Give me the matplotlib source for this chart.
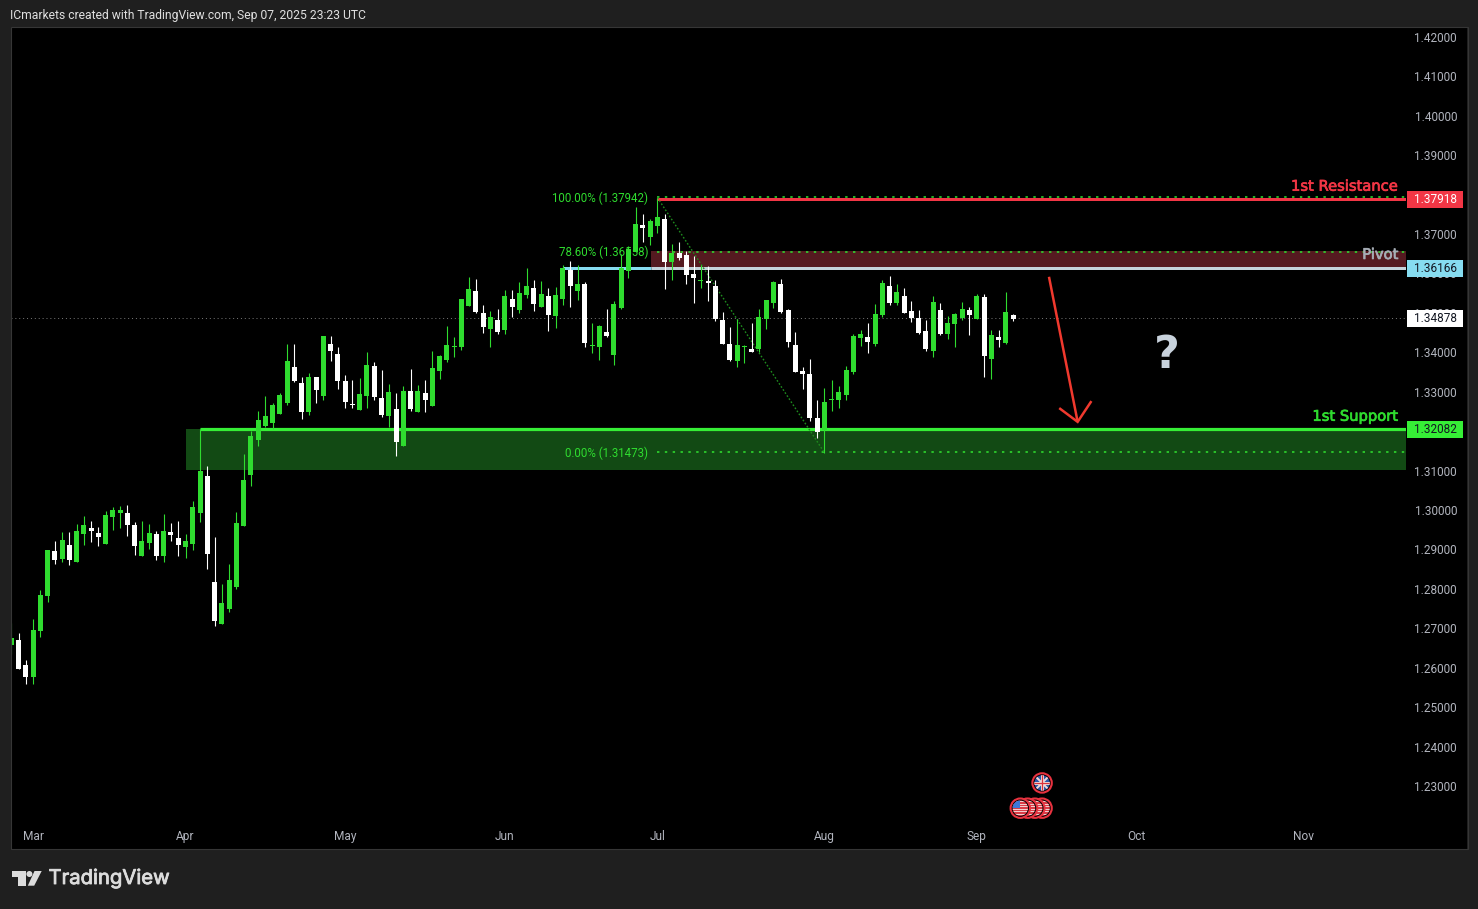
import numpy as np
import matplotlib
matplotlib.use("Agg")
import matplotlib.pyplot as plt
import matplotlib.patheffects as pe
from matplotlib.patches import Circle, Polygon, Rectangle
from matplotlib.transforms import blended_transform_factory

opens = [1.2659,1.2671,1.2608,1.2577,1.2694,1.2783,1.2897,1.2877,1.2912,1.2869,
 1.2940,1.2955,1.2942,1.2915,1.2983,1.2993,1.2993,1.2963,1.2884,1.2917,
 1.2940,1.2884,1.2945,1.2930,1.2907,1.2915,1.2993,1.3087,1.2818,1.2711,
 1.2750,1.2805,1.2960,1.3090,1.3179,1.3214,1.3222,1.3244,1.3272,1.3364,
 1.3323,1.3250,1.3338,1.3290,1.3422,1.3397,1.3328,1.3270,1.3255,1.3290,
 1.3366,1.3285,1.3239,1.3257,1.3163,1.3303,1.3250,1.3298,1.3265,1.3354,
 1.3381,1.3414,1.3414,1.3519,1.3557,1.3501,1.3460,1.3483,1.3457,1.3536,
 1.3508,1.3546,1.3564,1.3516,1.3544,1.3494,1.3536,1.3610,1.3557,1.3575,
 1.3417,1.3414,1.3452,1.3394,1.3514,1.3608,1.3656,1.3724,1.3694,1.3722,
 1.3739,1.3630,1.3653,1.3648,1.3600,1.3582,1.3582,1.3569,1.3483,1.3422,
 1.3379,1.3414,1.3409,1.3409,1.3486,1.3526,1.3574,1.3508,1.3420,1.3354,
 1.3346,1.3234,1.3204,1.3280,1.3280,1.3293,1.3351,1.3437,1.3440,1.3422,
 1.3496,1.3569,1.3526,1.3544,1.3506,1.3488,1.3455,1.3404,1.3508,1.3447,
 1.3473,1.3488,1.3508,1.3486,1.3541,1.3384,1.3440,1.3425,1.3496]
closes = [1.2677,1.2598,1.2577,1.2697,1.2785,1.2899,1.2874,1.2925,1.2874,1.2948,
 1.2963,1.2948,1.2932,1.2988,1.3001,1.3001,1.2963,1.2909,1.2922,1.2942,
 1.2884,1.2948,1.2937,1.2912,1.2922,1.3008,1.3100,1.2889,1.2719,1.2765,
 1.2823,1.2968,1.3077,1.3189,1.3229,1.3239,1.3267,1.3293,1.3379,1.3328,
 1.3250,1.3338,1.3305,1.3442,1.3404,1.3328,1.3275,1.3267,1.3295,1.3369,
 1.3288,1.3242,1.3300,1.3173,1.3303,1.3257,1.3303,1.3280,1.3361,1.3392,
 1.3420,1.3417,1.3536,1.3562,1.3504,1.3465,1.3491,1.3452,1.3544,1.3516,
 1.3551,1.3569,1.3523,1.3549,1.3495,1.3546,1.3615,1.3569,1.3575,1.3425,
 1.3420,1.3468,1.3443,1.3524,1.3615,1.3663,1.3727,1.3717,1.3734,1.3745,
 1.3630,1.3653,1.3640,1.3597,1.3590,1.3584,1.3577,1.3486,1.3422,1.3381,
 1.3420,1.3417,1.3402,1.3491,1.3534,1.3579,1.3503,1.3427,1.3351,1.3346,
 1.3234,1.3199,1.3275,1.3282,1.3300,1.3356,1.3442,1.3447,1.3427,1.3498,
 1.3577,1.3526,1.3554,1.3501,1.3488,1.3450,1.3409,1.3529,1.3447,1.3475,
 1.3498,1.3511,1.3496,1.3544,1.3392,1.3445,1.3432,1.3503,1.3486]
highs = [1.2715,1.2689,1.2620,1.2725,1.2798,1.2899,1.2922,1.2945,1.2945,1.2965,
 1.2986,1.2973,1.2958,1.2998,1.3008,1.3011,1.3014,1.2970,1.2973,1.2965,
 1.2948,1.2991,1.2968,1.2973,1.2940,1.3024,1.3206,1.3112,1.2932,1.2813,
 1.2864,1.2996,1.3143,1.3201,1.3252,1.3290,1.3272,1.3298,1.3422,1.3422,
 1.3338,1.3348,1.3338,1.3442,1.3442,1.3414,1.3343,1.3331,1.3336,1.3402,
 1.3376,1.3356,1.3321,1.3298,1.3315,1.3359,1.3318,1.3331,1.3404,1.3394,
 1.3468,1.3440,1.3536,1.3592,1.3587,1.3521,1.3506,1.3511,1.3559,1.3559,
 1.3579,1.3615,1.3584,1.3582,1.3564,1.3567,1.3623,1.3633,1.3623,1.3579,
 1.3476,1.3471,1.3511,1.3532,1.3651,1.3671,1.3770,1.3752,1.3739,1.3794,
 1.3752,1.3676,1.3681,1.3658,1.3645,1.3623,1.3620,1.3584,1.3503,1.3465,
 1.3486,1.3420,1.3475,1.3511,1.3534,1.3582,1.3587,1.3511,1.3453,1.3364,
 1.3384,1.3280,1.3310,1.3331,1.3315,1.3366,1.3447,1.3458,1.3475,1.3524,
 1.3584,1.3595,1.3574,1.3564,1.3531,1.3508,1.3483,1.3544,1.3526,1.3493,
 1.3501,1.3529,1.3516,1.3549,1.3549,1.3458,1.3458,1.3554,1.3498]
lows = [1.2636,1.2598,1.2560,1.2560,1.2679,1.2768,1.2864,1.2869,1.2861,1.2869,
 1.2912,1.2920,1.2909,1.2915,1.2950,1.2955,1.2935,1.2887,1.2884,1.2902,
 1.2874,1.2869,1.2922,1.2884,1.2879,1.2899,1.2970,1.2851,1.2706,1.2711,
 1.2742,1.2800,1.2960,1.3062,1.3163,1.3211,1.3206,1.3244,1.3267,1.3326,
 1.3232,1.3242,1.3272,1.3280,1.3379,1.3308,1.3260,1.3260,1.3255,1.3260,
 1.3280,1.3237,1.3211,1.3138,1.3163,1.3252,1.3250,1.3250,1.3265,1.3333,
 1.3376,1.3389,1.3407,1.3519,1.3501,1.3450,1.3414,1.3447,1.3447,1.3491,
 1.3501,1.3539,1.3506,1.3516,1.3455,1.3463,1.3521,1.3516,1.3534,1.3414,
 1.3400,1.3382,1.3440,1.3369,1.3511,1.3590,1.3656,1.3681,1.3673,1.3704,
 1.3562,1.3584,1.3635,1.3575,1.3526,1.3564,1.3532,1.3481,1.3422,1.3379,
 1.3364,1.3374,1.3402,1.3402,1.3460,1.3513,1.3501,1.3414,1.3351,1.3308,
 1.3227,1.3183,1.3147,1.3252,1.3260,1.3280,1.3346,1.3417,1.3399,1.3417,
 1.3491,1.3521,1.3521,1.3501,1.3478,1.3447,1.3404,1.3389,1.3445,1.3435,
 1.3414,1.3483,1.3445,1.3486,1.3338,1.3333,1.3414,1.3422,1.3480]

y_ticks = [1.42,1.41,1.40,1.39,1.38,1.37,1.36,1.35,1.34,1.33,1.32,1.31,1.30,1.29,
           1.28,1.27,1.26,1.25,1.24,1.23]
month_labels = ["Mar","Apr","May","Jun","Jul","Aug","Sep","Oct","Nov"]
month_bars = [3,24,46,68,89,112,133,155,178]

resistance, pivot, support, last_price = 1.37918, 1.36166, 1.32082, 1.34878
pivot_zone_top, support_zone_bottom = 1.3658, 1.3103
fib_levels = [1.37942, 1.36558, 1.31473]
fib_labels = ["100.00% (1.37942)", "78.60% (1.36558)", "0.00% (1.31473)"]
fib_high_bar, fib_low_bar = 89, 112
arrow_x = [142.95, 146.9]
arrow_y = [1.3593, 1.3225]
head_x = [144.5, 146.9, 148.7]
head_y = [1.3258, 1.3225, 1.3275]
us_event_bars = [142, 141, 140, 139]
uk_event_bar = 142

W, H = 1478, 909
BG, PANE = "#1f1f1f", "#000000"
GREEN, LINE_GREEN, RED = "#2fdc2f", "#36ee36", "#f23645"
SKY, AXIS_TXT = "#86dcf0", "#b2b5be"
FONT = "Roboto"

fig = plt.figure(figsize=(W/100, H/100), dpi=100, facecolor=BG)

def px_axes(x0, y0, x1, y1, **kw):
    return fig.add_axes([x0/W, 1-y1/H, (x1-x0)/W, (y1-y0)/H], **kw)

STEP, X0 = 7.259, 11.3
PPU = 3942.1
ymax = 1.42 + (37.5-27)/PPU
ymin = 1.23 - (849-786.5)/PPU
NUDGE = 0.9/PPU  # the level lines sit about one pixel lower than the tick scale suggests

ax = px_axes(11, 27, 1406, 849, facecolor=PANE)
ax.set_xlim((11-X0)/STEP, (1406-X0)/STEP)
ax.set_ylim(ymin, ymax)
for s in ax.spines.values():
    s.set_visible(False)
ax.set_yticks([])
ax.set_xticks(month_bars, month_labels, fontfamily=FONT, fontsize=8.6, color=AXIS_TXT)
ax.tick_params(axis="x", length=0, pad=-14)
xend = (1406-X0)/STEP + 1
PX = 0.72
ZONE_BAR = 88.1

ax.fill_between([24.05, xend], support_zone_bottom, support-NUDGE, color="#124a14", lw=0, zorder=1)
ax.fill_between([ZONE_BAR, xend], pivot-NUDGE, pivot_zone_top, color="#551a20", lw=0, zorder=1)
ax.plot([26, xend], [support-NUDGE]*2, color=LINE_GREEN, lw=3.2*PX, zorder=2, solid_capstyle="butt")
ax.plot([89, xend], [resistance-NUDGE]*2, color=RED, lw=3*PX, zorder=2, solid_capstyle="butt")
ax.plot([76, ZONE_BAR], [pivot-NUDGE]*2, color=SKY, lw=3*PX, zorder=2, solid_capstyle="butt")
ax.plot([ZONE_BAR, xend], [pivot-NUDGE]*2, color="#c4d2da", lw=3*PX, zorder=2, solid_capstyle="butt")
ax.axhline(last_price, color="#7a7a7a", lw=0.7, ls=(0, (1, 3)), zorder=1.5)
for lvl in fib_levels:
    ax.plot([fib_high_bar, xend], [lvl, lvl], color=GREEN, lw=1.6*PX, ls=(0, (1.5, 3.4)), zorder=2.5)
ax.plot([fib_high_bar, fib_low_bar], [fib_levels[0], fib_levels[2]], color="#1e8a1e",
        lw=1.4*PX, ls=(0, (1.2, 1.4)), zorder=2.5)
for lvl, lab in zip(fib_levels, fib_labels):
    ax.annotate(lab, (fib_high_bar, lvl), xytext=(-6.5, -0.4), textcoords="offset points",
                ha="right", va="center", color=GREEN, fontsize=8.3, fontfamily=FONT, zorder=2.6)

idx = np.arange(len(opens))
o, c, h, l = map(np.array, (opens, closes, highs, lows))
up = c >= o
cols = np.where(up, GREEN, "#ffffff")
ax.vlines(idx, l, h, colors=cols, lw=1.1*PX, zorder=3)
ax.bar(idx, np.maximum(np.abs(c-o), 0.0004), bottom=np.minimum(o, c), width=5/STEP,
       color=cols, lw=0, zorder=3.1)

tr = blended_transform_factory(ax.transAxes, ax.transData)
lab_x = (1398.5-11)/(1406-11)
def side_label(y, txt, col):
    t = ax.text(lab_x, y, txt, transform=tr, ha="right", va="center", color=col,
                fontsize=10.6, fontfamily="DejaVu Sans", zorder=5)
    t.set_path_effects([pe.withStroke(linewidth=0.5, foreground=col)])
side_label(resistance+0.0031, "1st Resistance", RED)
side_label(pivot+0.0033, "Pivot", "#a6adb6")
side_label(support+0.0031, "1st Support", GREEN)

ax.plot(arrow_x, arrow_y, color="#f0392e", lw=2.5*PX, zorder=6, solid_capstyle="butt")
ax.plot(head_x, head_y, color="#f0392e", lw=2.5*PX, zorder=6, solid_joinstyle="miter")
ax.text((1167-X0)/STEP, 1.3394, "?", ha="center", va="center", color="#c8d2dc",
        fontsize=32, fontweight="bold", fontfamily="DejaVu Sans", zorder=6)

ap = px_axes(1406, 27, 1467, 849, facecolor=PANE)
ap.set_xlim(1406, 1467)
ap.set_ylim(ymin, ymax)
ap.set_xticks([]); ap.set_yticks([])
for s in ap.spines.values():
    s.set_visible(False)
for t in y_ticks:
    ap.annotate(f"{t:.5f}", (1457, t), xytext=(0, -0.7), textcoords="offset points",
                ha="right", va="center", color=AXIS_TXT, fontsize=8.5, fontfamily=FONT, zorder=1)
tags = [(resistance, RED, "#ffffff", NUDGE), (pivot, SKY, "#131722", NUDGE),
        (last_price, "#ffffff", "#131722", 0.0), (support, LINE_GREEN, "#131722", NUDGE)]
for val, col, txt, nudge in tags:
    ap.barh(val-nudge, 56, left=1407, height=17/PPU, color=col, lw=0, zorder=3)
    ap.annotate(f"{val:.5f}", (1457, val-nudge), xytext=(0, -0.4), textcoords="offset points",
                ha="right", va="center", color=txt, fontsize=8.5, fontfamily=FONT, zorder=4)

ov = fig.add_axes([0, 0, 1, 1], facecolor="none")
ov.axis("off")
ov.add_patch(Rectangle((10.5, 26.5), 1457, 822, fill=False, ec="#363636", lw=0.8))
ov.text(10, 15, "ICmarkets created with TradingView.com, Sep 07, 2025 23:23 UTC", color="#e0e0e0",
        fontsize=8.75, fontfamily=FONT, ha="left", va="center")
tv = ov.text(48.5, 879, "TradingView", color="#dcdcdc", fontsize=14.6, fontfamily="Inter",
             ha="left", va="center")
tv.set_path_effects([pe.withStroke(linewidth=0.6, foreground="#dcdcdc")])
logo = "#dcdcdc"
ov.add_patch(Polygon([(12,871),(25.7,871),(25.7,885.7),(18.3,885.7),(18.3,877.3),(12,877.3)], fc=logo, lw=0))
ov.add_patch(Circle((29.4, 874), 3, fc=logo, lw=0))
ov.add_patch(Polygon([(34.5,871),(41.7,871),(34.2,885.7),(27.8,885.7)], fc=logo, lw=0))

def bar_px(i):
    return X0 + STEP*i
def price_px(p):
    return 37.5 + (1.42-p)*PPU

us_y = price_px(1.2245)
stripes = np.ones((13, 13, 3))
stripes[::2] = np.array([0.86, 0.24, 0.28])
stripes[1::2] = np.array([0.96, 0.80, 0.80])
for k, b in enumerate(us_event_bars):
    cx = bar_px(b)
    z = 3 + k
    ov.add_patch(Circle((cx, us_y), 9.7, fc="#000000", ec="#e8323f", lw=1.5, zorder=z))
    clip = Circle((cx, us_y), 7.7, transform=ov.transData)
    im = ov.imshow(stripes, extent=(cx-8, cx+8, us_y+8, us_y-8), zorder=z+0.1,
                   interpolation="nearest", aspect="auto")
    im.set_clip_path(clip)
    if b == us_event_bars[-1]:
        r = Rectangle((cx-8, us_y-8), 8, 7.5, fc="#3c78d8", lw=0, zorder=z+0.2)
        ov.add_patch(r)
        r.set_clip_path(clip)

uk_x, uk_y = bar_px(uk_event_bar), price_px(1.2309)
ov.add_patch(Circle((uk_x, uk_y), 9.7, fc="#000000", ec="#e8323f", lw=1.5, zorder=3))
clip = Circle((uk_x, uk_y), 7.7, transform=ov.transData)
bgp = Rectangle((uk_x-8, uk_y-8), 16, 16, fc="#2d57a8", lw=0, zorder=3.1)
ov.add_patch(bgp); bgp.set_clip_path(clip)
for (dx0, dy0, dx1, dy1, col, w) in [(-8,-8,8,8,"#f0d8d8",2.0),(-8,8,8,-8,"#f0d8d8",2.0),
                                     (-8,0,8,0,"#f0e0e0",3.0),(0,-8,0,8,"#f0e0e0",3.0),
                                     (-8,0,8,0,"#d8323c",1.3),(0,-8,0,8,"#d8323c",1.3)]:
    ln, = ov.plot([uk_x+dx0, uk_x+dx1], [uk_y+dy0, uk_y+dy1], color=col, lw=w*PX, zorder=3.2)
    ln.set_clip_path(clip)
ov.set_xlim(0, W); ov.set_ylim(H, 0)

fig.savefig("out.png", dpi=100, facecolor=BG)
